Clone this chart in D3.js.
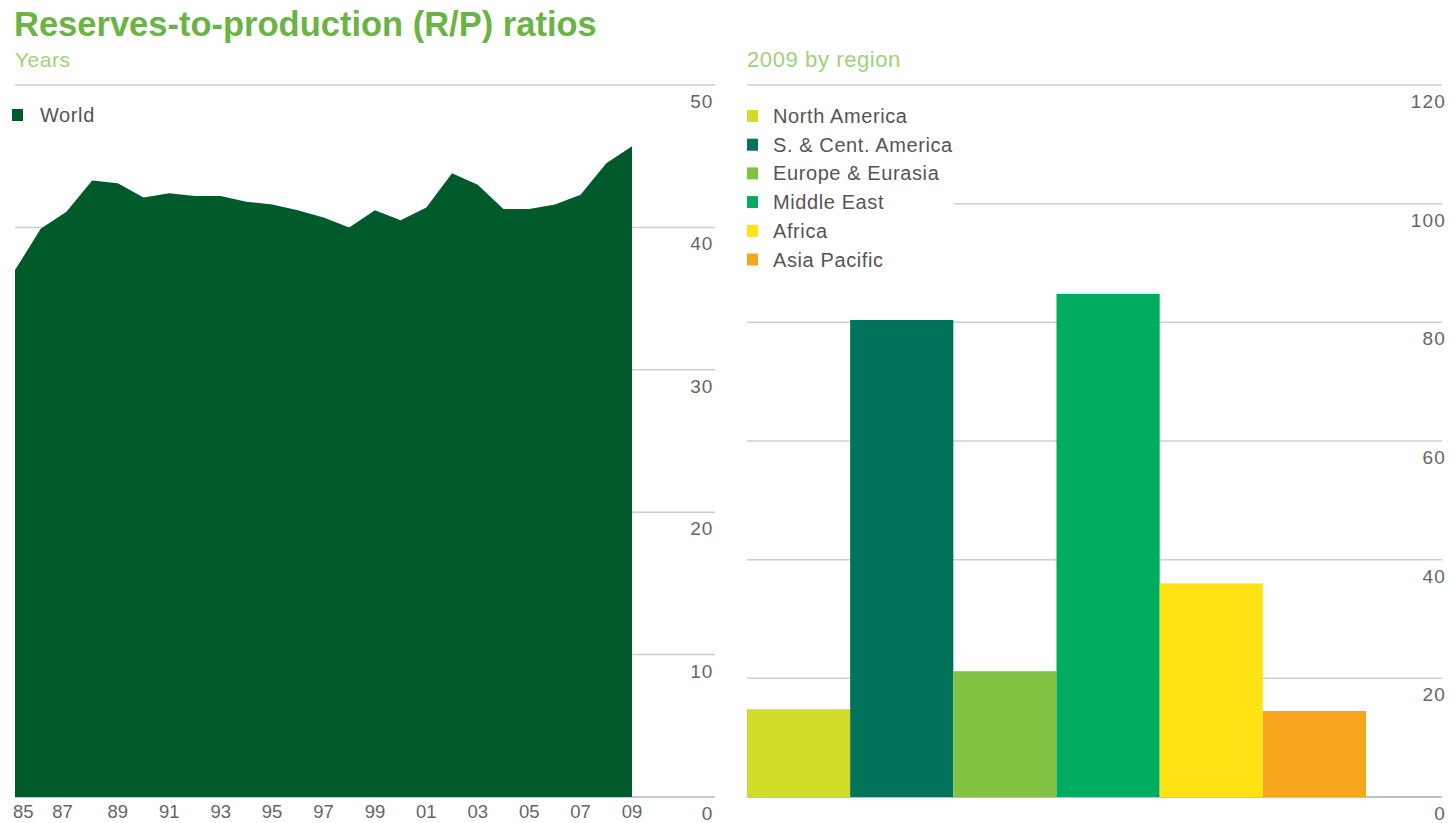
<!DOCTYPE html>
<html><head><meta charset="utf-8">
<script src="https://cdn.jsdelivr.net/npm/d3@7"></script>
<style>body{margin:0;background:#fff}svg{display:block;font-family:"Liberation Sans",Arial,sans-serif}</style>
</head><body>
<svg id="c" width="1449" height="823"></svg>
<script>
const years = [1985,1986,1987,1988,1989,1990,1991,1992,1993,1994,1995,1996,1997,1998,1999,2000,2001,2002,2003,2004,2005,2006,2007,2008,2009];
const worldRP = [37.0,39.9,41.1,43.3,43.1,42.1,42.4,42.2,42.2,41.8,41.6,41.2,40.7,40.0,41.2,40.5,41.4,43.8,43.0,41.3,41.3,41.6,42.3,44.5,45.7];
const yearTicks = [1985,1987,1989,1991,1993,1995,1997,1999,2001,2003,2005,2007,2009];
const leftTicks = [0,10,20,30,40,50];
const regions = ["North America","S. & Cent. America","Europe & Eurasia","Middle East","Africa","Asia Pacific"];
const regionRP = [14.8,80.4,21.2,84.8,36.0,14.5];
const regionColors = ["#d1dc28","#00735a","#82c242","#00ac5f","#ffe312","#f7a51c"];
const rightTicks = [0,20,40,60,80,100,120];

const svg = d3.select("#c");
const green = "#6ab344", lightGreen = "#9fd27a", grid = "#cfcfcf", txt = "#666";

svg.append("text").attr("x",14).attr("y",36).attr("font-size",34.5).attr("font-weight","bold")
  .attr("fill",green).text("Reserves-to-production (R/P) ratios");
svg.append("text").attr("x",15).attr("y",67).attr("font-size",21).attr("letter-spacing",0.5).attr("fill",lightGreen).text("Years");
svg.append("text").attr("x",747).attr("y",67).attr("font-size",22).attr("letter-spacing",0.6).attr("fill",lightGreen).text("2009 by region");

// ---- Left chart
const L = {x0:15, x1:715, y0:797, y1:85};
const xL = d3.scaleLinear().domain([1985,2009]).range([15,632]);
const yL = d3.scaleLinear().domain([0,50]).range([L.y0,L.y1]);
const gL = svg.append("g");
gL.selectAll("line.g").data(leftTicks).join("line").attr("class","g")
  .attr("x1",L.x0).attr("x2",L.x1).attr("y1",d=>yL(d)).attr("y2",d=>yL(d))
  .attr("stroke",d=>d===0?"#bbb":grid).attr("stroke-width",1.5);
gL.append("path").datum(years.map((y,i)=>[y,worldRP[i]]))
  .attr("fill","#005a2b")
  .attr("d",d3.area().x(d=>xL(d[0])).y0(yL(0)).y1(d=>yL(d[1])));
gL.selectAll("text.t").data(leftTicks).join("text").attr("class","t")
  .attr("x",L.x1-2).attr("y",d=>yL(d)+23).attr("text-anchor","end")
  .attr("font-size",19).attr("letter-spacing",0.8).attr("fill",txt).text(d=>d);
gL.selectAll("text.x").data(yearTicks).join("text").attr("class","x")
  .attr("x",d=>d===1985?xL(d)-2:(d===1987?xL(d)-4:xL(d)))
  .attr("y",818).attr("text-anchor",d=>d===1985?"start":"middle")
  .attr("font-size",18.5).attr("fill",txt).text(d=>String(d).slice(2));
// legend
gL.append("rect").attr("x",12).attr("y",109).attr("width",11).attr("height",12).attr("fill","#005a2b");
gL.append("text").attr("x",40).attr("y",122).attr("font-size",20).attr("letter-spacing",0.6).attr("fill","#555").text("World");

// ---- Right chart
const R = {x0:747, x1:1449, y0:797, y1:85};
const yR = d3.scaleLinear().domain([0,120]).range([R.y0,R.y1]);
const xR = d3.scaleBand().domain(regions).range([747,1366]).padding(0);
const gR = svg.append("g");
gR.selectAll("line.g").data(rightTicks).join("line").attr("class","g")
  .attr("x1",R.x0).attr("x2",1442).attr("y1",d=>yR(d)).attr("y2",d=>yR(d))
  .attr("stroke",d=>d===0?"#aaa":grid).attr("stroke-width",1.5);
gR.selectAll("rect.b").data(regions).join("rect").attr("class","b")
  .attr("x",d=>xR(d)).attr("width",xR.bandwidth())
  .attr("y",(d,i)=>yR(regionRP[i])).attr("height",(d,i)=>yR(0)-yR(regionRP[i]))
  .attr("fill",(d,i)=>regionColors[i]);
gR.selectAll("text.t").data(rightTicks).join("text").attr("class","t")
  .attr("x",1446).attr("y",d=>yR(d)+23).attr("text-anchor","end")
  .attr("font-size",19).attr("letter-spacing",1.2).attr("fill",txt).text(d=>d);
// legend
const lg = gR.append("g");
lg.append("rect").attr("x",740).attr("y",100).attr("width",214).attr("height",172).attr("fill","#fff");
regions.forEach((r,i)=>{
  const y = 116 + i*28.7;
  lg.append("rect").attr("x",747).attr("y",y-6).attr("width",11).attr("height",12).attr("fill",regionColors[i]);
  lg.append("text").attr("x",773).attr("y",y+7).attr("font-size",20).attr("letter-spacing",0.6).attr("fill","#555").text(r);
});
</script>
</body></html>
